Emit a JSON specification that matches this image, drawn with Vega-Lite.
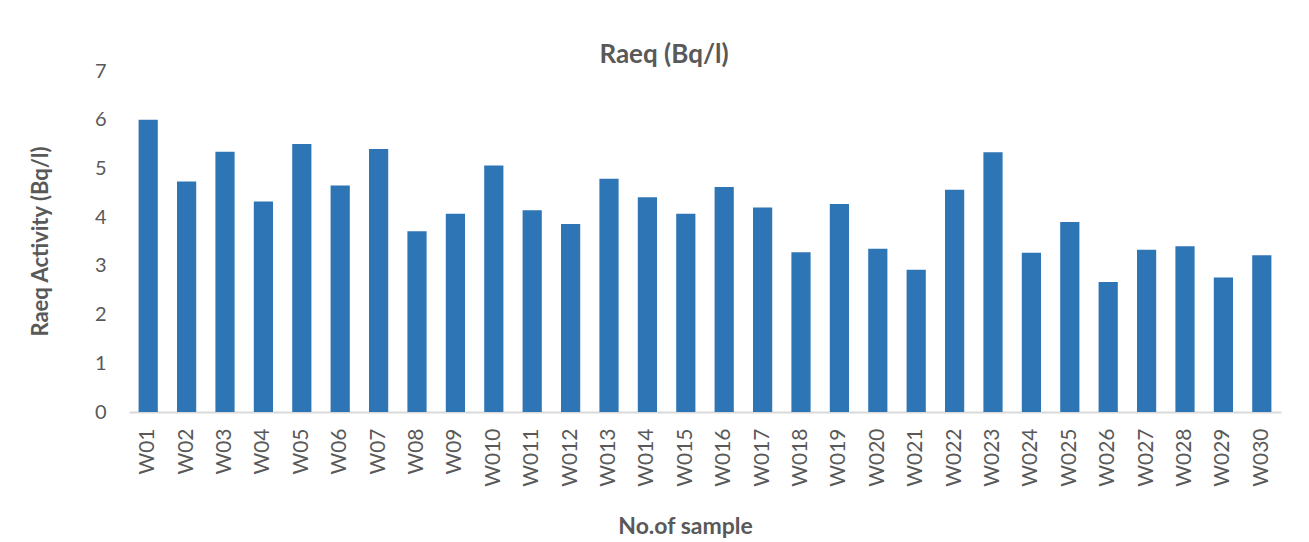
{
  "$schema": "https://vega.github.io/schema/vega-lite/v6.json",
  "autosize": "none",
  "width": 1152,
  "height": 341,
  "padding": {"left": 129, "top": 71, "right": 28, "bottom": 130},
  "background": "white",
  "config": {
    "font": "Lato",
    "view": {"stroke": null}
  },
  "title": {
    "text": "Raeq (Bq/l)",
    "fontSize": 26,
    "fontWeight": "bold",
    "color": "#595959",
    "anchor": "middle",
    "frame": "group",
    "baseline": "alphabetic",
    "offset": -25,
    "dx": -41,
    "dy": 3
  },
  "data": {
    "values": [
      {"sample": "W01", "value": 6.0},
      {"sample": "W02", "value": 4.73},
      {"sample": "W03", "value": 5.34},
      {"sample": "W04", "value": 4.32},
      {"sample": "W05", "value": 5.5},
      {"sample": "W06", "value": 4.65},
      {"sample": "W07", "value": 5.4},
      {"sample": "W08", "value": 3.71},
      {"sample": "W09", "value": 4.07},
      {"sample": "W010", "value": 5.06},
      {"sample": "W011", "value": 4.14},
      {"sample": "W012", "value": 3.86},
      {"sample": "W013", "value": 4.79},
      {"sample": "W014", "value": 4.41},
      {"sample": "W015", "value": 4.07},
      {"sample": "W016", "value": 4.62},
      {"sample": "W017", "value": 4.2},
      {"sample": "W018", "value": 3.28},
      {"sample": "W019", "value": 4.27},
      {"sample": "W020", "value": 3.35},
      {"sample": "W021", "value": 2.92},
      {"sample": "W022", "value": 4.56},
      {"sample": "W023", "value": 5.33},
      {"sample": "W024", "value": 3.27},
      {"sample": "W025", "value": 3.9},
      {"sample": "W026", "value": 2.67},
      {"sample": "W027", "value": 3.33},
      {"sample": "W028", "value": 3.4},
      {"sample": "W029", "value": 2.76},
      {"sample": "W030", "value": 3.22}
    ]
  },
  "mark": {"type": "bar", "color": "#2E75B6"},
  "encoding": {
    "x": {
      "field": "sample",
      "type": "nominal",
      "sort": null,
      "scale": {"paddingInner": 0.5, "paddingOuter": 0.25},
      "axis": {
        "title": "No.of sample",
        "titleFontSize": 23,
        "titleFontWeight": "bold",
        "titleColor": "#595959",
        "titleX": 556,
        "titleY": 121,
        "titleAlign": "center",
        "titleBaseline": "alphabetic",
        "labelAngle": 270,
        "labelAlign": "right",
        "labelBaseline": "middle",
        "labelFontSize": 21,
        "labelColor": "#595959",
        "labelPadding": 16,
        "ticks": false,
        "domainColor": "#d9d9d9",
        "domainWidth": 2
      }
    },
    "y": {
      "field": "value",
      "type": "quantitative",
      "scale": {"domain": [0, 7], "nice": false},
      "axis": {
        "title": "Raeq Activity (Bq/l)",
        "titleFontSize": 22,
        "titleFontWeight": "bold",
        "titleColor": "#595959",
        "titleX": -82,
        "titleY": 170,
        "titleAngle": 270,
        "titleAlign": "center",
        "titleBaseline": "alphabetic",
        "values": [0, 1, 2, 3, 4, 5, 6, 7],
        "labelFontSize": 20,
        "labelColor": "#595959",
        "labelPadding": 23,
        "ticks": false,
        "domain": false,
        "grid": false
      }
    }
  }
}
